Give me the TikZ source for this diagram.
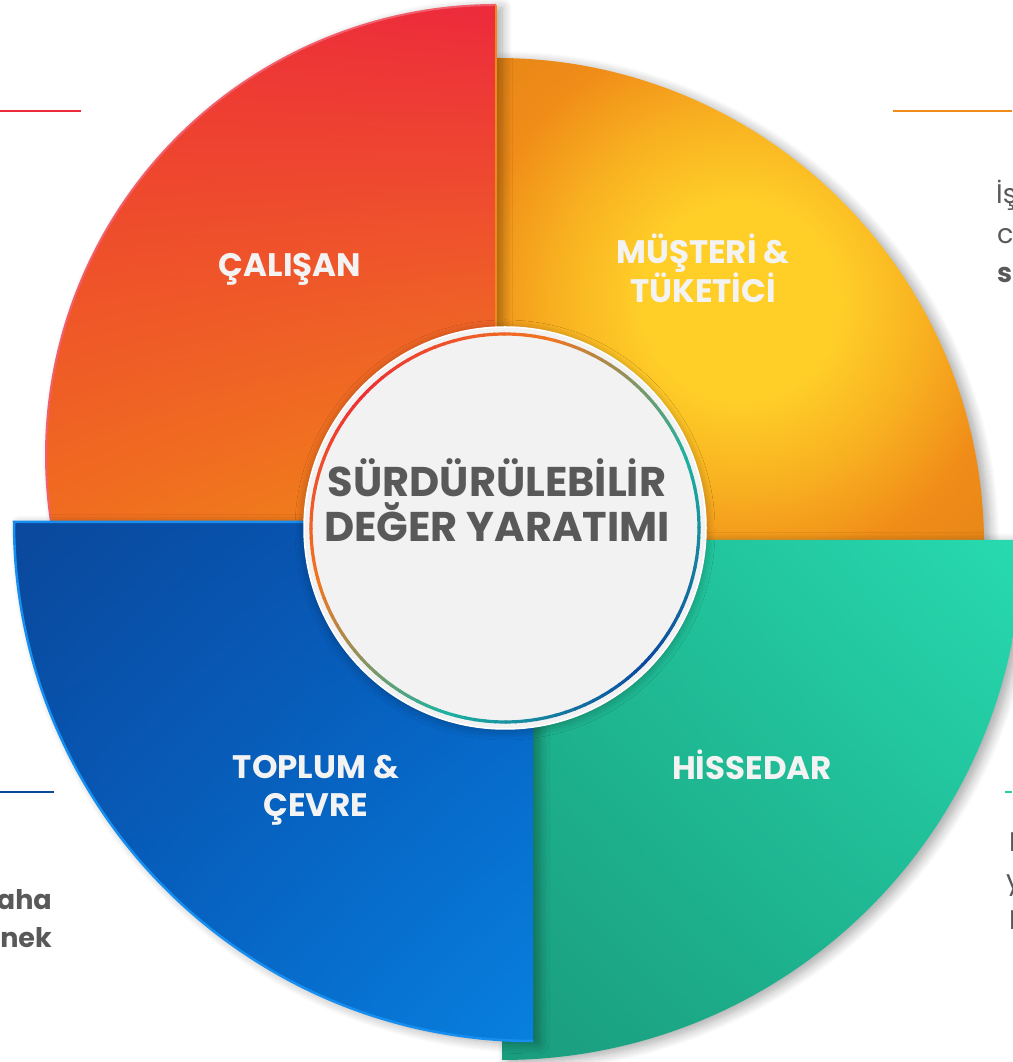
\documentclass[tikz,border=0pt]{standalone}
\usepackage{fontspec}
\setmainfont{Poppins}
\usetikzlibrary{shadings, shadows.blur}

\definecolor{calred}{RGB}{237, 42, 60}
\definecolor{calredl}{RGB}{237, 52, 52}
\definecolor{calorange}{RGB}{240, 108, 32}
\definecolor{calorange2}{RGB}{241, 136, 24}
\definecolor{musyellow}{RGB}{255, 207, 40}
\definecolor{musorange}{RGB}{240, 140, 24}
\definecolor{hislight}{RGB}{40, 218, 176}
\definecolor{hismid}{RGB}{30, 184, 146}
\definecolor{hisdark}{RGB}{26, 156, 126}
\definecolor{topdark}{RGB}{10, 72, 155}
\definecolor{topmid}{RGB}{6, 92, 190}
\definecolor{toplight}{RGB}{8, 128, 222}
\definecolor{blueedge}{RGB}{22, 142, 240}
\definecolor{ringred}{RGB}{238, 48, 52}
\definecolor{ringorange}{RGB}{240, 118, 32}
\definecolor{ringteal}{RGB}{30, 178, 160}
\definecolor{ringblue}{RGB}{10, 72, 160}
\definecolor{textgray}{RGB}{89, 89, 89}
\definecolor{labelwhite}{RGB}{243, 243, 243}
\definecolor{diskgray}{RGB}{242, 242, 242}

\pgfdeclareradialshading{sunburst}{\pgfpoint{0bp}{0bp}}{%
  color(0bp)=(musyellow); color(10bp)=(musyellow); color(19bp)=(musyellow!55!musorange);
  color(28bp)=(musorange); color(50bp)=(musorange!90!black)}

\begin{document}
\begin{tikzpicture}[x=1pt, y=1pt,
    sector/.style={blur shadow={shadow xshift=6pt, shadow yshift=-3pt, shadow blur radius=10pt, shadow blur steps=10, shadow opacity=35}},
    label/.style={text=labelwhite, font=\fontsize{32.5}{38}\selectfont\bfseries, align=center, anchor=base, inner sep=0pt},
    fragment/.style={text=textgray, font=\fontsize{27}{36}\selectfont, inner sep=0pt},
    side line/.style={line width=2.5pt}]
  \useasboundingbox (0,0) rectangle (1012,1062);

  % Musteri & tuketici
  \shade[sector, shading=sunburst] (497,517) -- (497,1004) arc[start angle=90, end angle=0, radius=487] -- cycle;

  % Calisan
  \shade[sector, upper left=calredl, upper right=calred, lower left=calorange, lower right=calorange2]
    (496,540) -- (496,1057) arc[start angle=90, end angle=189, radius=450] -- cycle;
  \draw[line width=2pt, calred!75!white] (496,1057) arc[start angle=90, end angle=189, radius=450];
  \draw[line width=2pt, calorange2] (496,540) -- (496,1057);

  % Hissedar
  \shade[sector, upper left=hismid, upper right=hislight, lower left=hisdark, lower right=hismid]
    (502,522) -- (1022,522) arc[start angle=0, end angle=-90, radius=520] -- cycle;

  % Toplum & cevre
  \shade[sector, upper left=topdark, upper right=topmid, lower left=topmid, lower right=toplight]
    (533,540) -- (14,540) arc[start angle=180, end angle=270, radius=519] -- cycle;
  \draw[line width=2.5pt, blueedge] (533,540) -- (14,540) arc[start angle=180, end angle=270, radius=519];

  % Sector labels (base = last line)
  \node[label] (calisan) at (290,785) {ÇALIŞAN};
  \node[label] (musteri) at (703,759) {MÜŞTERİ \&\\TÜKETİCİ};
  \node[label] (toplum) at (316,245) {TOPLUM \&\\ÇEVRE};
  \node[label] (hissedar) at (752,282) {HİSSEDAR};

  % Center disk with gradient ring
  \node[circle, fill=diskgray, draw=white, line width=1.5pt, minimum size=402pt, inner sep=0pt,
    blur shadow={shadow xshift=0pt, shadow yshift=-2pt, shadow blur radius=9pt, shadow blur steps=8, shadow opacity=30}] (core) at (505,534) {};
  \foreach \a in {0,3,...,357}{
    \pgfmathsetmacro{\d}{abs(mod(\a+405,360)-180)}
    \ifdim\d pt<60pt
      \pgfmathsetmacro{\p}{100*\d/60}\colorlet{ringc}{ringorange!\p!ringred}
    \else\ifdim\d pt<115pt
      \pgfmathsetmacro{\p}{100*(\d-60)/55}\colorlet{ringc}{ringteal!\p!ringorange}
    \else
      \pgfmathsetmacro{\p}{100*(\d-115)/65}\colorlet{ringc}{ringblue!\p!ringteal}
    \fi\fi
    \draw[ringc, line width=3.2pt] (core.center) ++(\a:194) arc[start angle=\a, delta angle=3.4, radius=194];
  }
  \node[text=textgray, font=\fontsize{41.5}{45}\selectfont\bfseries, align=center, anchor=base, inner sep=0pt] (title) at (497,520) {SÜRDÜRÜLEBİLİR\\DEĞER YARATIMI};

  % Side lines
  \draw[side line, calred] (0,951) -- (81,951);
  \draw[side line, musorange] (893,951) -- (1012,951);
  \draw[side line, topdark] (0,270) -- (54,270);
  \draw[side line, hislight!80!hisdark] (1005,270) -- (1012,270);

  % Text fragments cut by the frame
  \node[fragment, anchor=base west] (ri1) at (996,858) {İş};
  \node[fragment, anchor=base west] (ri2) at (997,818) {c};
  \node[fragment, anchor=base west, font=\fontsize{27}{36}\selectfont\bfseries] (ri3) at (997,779) {s};
  \node[fragment, anchor=base east, font=\fontsize{27}{36}\selectfont\bfseries] (le1) at (52,152) {aha};
  \node[fragment, anchor=base east, font=\fontsize{27}{36}\selectfont\bfseries] (le2) at (52,114) {nek};
  \node[fragment, anchor=base west] (rb1) at (1009,210) {I};
  \node[fragment, anchor=base west] (rb2) at (1006,172) {y};
  \node[fragment, anchor=base west] (rb3) at (1009,132) {I};
\end{tikzpicture}
\end{document}
